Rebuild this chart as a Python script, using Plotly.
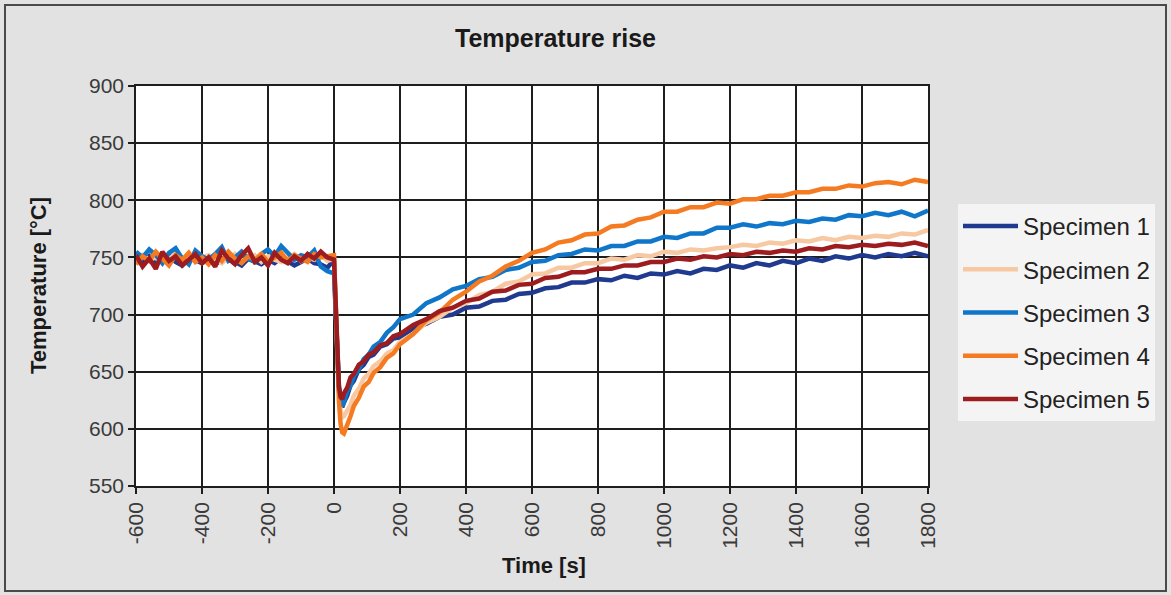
import plotly.graph_objects as go

# sample times [s]
time_pre = [-600, -580, -560, -540, -520, -500, -480, -460, -440, -420,
            -400, -380, -360, -340, -320, -300, -280, -260, -240, -220,
            -200, -180, -160, -140, -120, -100, -80, -60, -40, -20, 0]
time_post = [5, 10, 15, 20, 25, 30, 40, 50, 60, 75,
             90, 105, 120, 140, 160, 180, 200, 240, 280, 320,
             360, 400, 440, 480, 520, 560, 600, 640, 680, 720,
             760, 800, 840, 880, 920, 960, 1000, 1040, 1080, 1120,
             1160, 1200, 1240, 1280, 1320, 1360, 1400, 1440, 1480, 1520,
             1560, 1600, 1640, 1680, 1720, 1760, 1800]
times = time_pre + time_post

names = ["Specimen 1", "Specimen 2", "Specimen 3", "Specimen 4", "Specimen 5"]
colors = ["#203a8f", "#f6c9a2", "#0f76c9", "#f47b22", "#9c1c20"]

spec1 = [748, 745, 751, 744, 749, 752, 746, 743, 750, 747,
         745, 749, 744, 748, 751, 746, 743, 749, 746, 744,
         748, 745, 750, 747, 743, 746, 749, 745, 744, 741, 748,
         702, 661, 634, 622, 619, 623, 629, 638, 642, 652,
         656, 663, 665, 672, 674, 679, 680, 688, 692, 698,
         700, 706, 707, 712, 713, 718, 719, 723, 724, 728,
         728, 731, 730, 734, 732, 736, 735, 738, 736, 740,
         739, 743, 741, 745, 743, 747, 745, 749, 747, 751,
         749, 752, 750, 753, 751, 754, 751]
spec2 = [746, 752, 748, 750, 745, 749, 753, 747, 751, 746,
         750, 752, 748, 745, 750, 753, 747, 749, 752, 746,
         751, 748, 746, 750, 753, 747, 750, 748, 752, 747, 749,
         708, 663, 633, 616, 610, 611, 616, 621, 629, 635,
         644, 648, 655, 659, 666, 669, 676, 683, 693, 698,
         706, 710, 717, 720, 727, 729, 735, 736, 741, 741,
         745, 745, 749, 748, 752, 751, 755, 754, 757, 756,
         758, 759, 761, 760, 763, 762, 765, 764, 767, 765,
         768, 767, 769, 768, 771, 770, 774]
spec3 = [755, 750, 757, 752, 745, 754, 758, 749, 744, 756,
         751, 748, 753, 759, 747, 750, 755, 749, 746, 753,
         757, 751, 760, 754, 748, 752, 750, 756, 742, 738, 736,
         704, 664, 637, 624, 620, 623, 633, 638, 646, 652,
         661, 665, 672, 676, 684, 689, 696, 700, 710, 715,
         722, 725, 731, 733, 739, 741, 746, 747, 752, 753,
         757, 756, 760, 760, 764, 764, 768, 767, 771, 771,
         776, 776, 779, 777, 780, 779, 782, 781, 784, 783,
         787, 786, 789, 787, 790, 786, 791]
spec4 = [744, 751, 747, 755, 749, 743, 752, 748, 754, 746,
         750, 744, 752, 747, 755, 749, 745, 751, 748, 753,
         746, 750, 754, 747, 752, 749, 746, 753, 750, 751, 752,
         710, 659, 624, 604, 597, 596, 603, 611, 620, 627,
         637, 641, 649, 654, 662, 666, 674, 683, 695, 702,
         713, 720, 729, 734, 742, 747, 754, 757, 763, 765,
         770, 771, 777, 778, 783, 785, 790, 790, 794, 794,
         798, 797, 801, 801, 804, 804, 807, 807, 810, 810,
         813, 812, 815, 816, 814, 818, 816]
spec5 = [752, 742, 749, 740, 755, 747, 751, 743, 748, 753,
         745, 750, 742, 756, 749, 744, 752, 758, 746, 750,
         743, 754, 748, 745, 751, 747, 753, 749, 755, 750, 748,
         701, 659, 637, 628, 626, 631, 636, 645, 648, 656,
         659, 665, 667, 673, 675, 681, 683, 691, 696, 703,
         706, 712, 714, 720, 721, 726, 727, 732, 733, 737,
         737, 740, 740, 743, 743, 746, 746, 749, 748, 751,
         750, 753, 752, 755, 754, 756, 755, 758, 757, 760,
         759, 761, 760, 762, 761, 763, 760]
series = [spec1, spec2, spec3, spec4, spec5]

x_ticks = [-600, -400, -200, 0, 200, 400, 600, 800, 1000, 1200, 1400, 1600, 1800]
x_tick_labels = ["-600", "-400", "-200", "0", "200", "400", "600", "800",
                 "1000", "1200", "1400", "1600", "1800"]
y_ticks = [550, 600, 650, 700, 750, 800, 850, 900]

FONT = "Liberation Sans, Arial, sans-serif"

fig = go.Figure()
for nm, col, ys in zip(names, colors, series):
    fig.add_trace(go.Scatter(x=times, y=ys, mode="lines", name=nm,
                             legendgroup=nm,
                             line=dict(color=col, width=4.5)))

W, H = 1171, 595
L, R, T, B = 136, 928, 86, 486

def px(x):
    return (x - L) / (R - L)

def py(y):
    return (B - y) / (B - T)

axis_common = dict(showgrid=True, gridcolor="#1e1e1e", gridwidth=1.5,
                   showline=True, linecolor="#1e1e1e", linewidth=1.5, mirror=True,
                   ticks="outside", ticklen=6, tickcolor="#1e1e1e", tickwidth=1.5,
                   zeroline=False,
                   tickfont=dict(family=FONT, size=21, color="#3a3a3a"))

fig.update_layout(
    width=W, height=H,
    margin=dict(l=L, r=W - R, t=T, b=H - B),
    paper_bgcolor="#e2e2e2",
    plot_bgcolor="#ffffff",
    showlegend=True,
    legend=dict(x=px(958), y=py(204), xanchor="left", yanchor="top",
                bgcolor="#f4f4f4", borderwidth=0, itemwidth=55,
                traceorder="grouped", tracegroupgap=9,
                font=dict(family=FONT, size=24, color="#222222")),
    xaxis=dict(range=[-600, 1800], tickvals=x_ticks, ticktext=x_tick_labels,
               tickangle=-90, **axis_common),
    yaxis=dict(range=[550, 900], tickvals=y_ticks, **axis_common),
    annotations=[
        dict(text="<b>Temperature rise</b>", x=px(555), y=py(38), xref="paper", yref="paper",
             xanchor="center", yanchor="middle",
             showarrow=False, font=dict(family=FONT, size=25, color="#1a1a1a")),
        dict(text="<b>Time [s]</b>", x=px(544), y=py(565), xref="paper", yref="paper",
             xanchor="center", yanchor="middle",
             showarrow=False, font=dict(family=FONT, size=22, color="#1a1a1a")),
        dict(text="<b>Temperature [°C]</b>", x=px(38), y=py(286), xref="paper", yref="paper",
             xanchor="center", yanchor="middle",
             showarrow=False, textangle=-90, font=dict(family=FONT, size=22, color="#1a1a1a")),
    ],
    shapes=[
        dict(type="rect", xref="paper", yref="paper",
             x0=px(5), x1=px(1166), y0=py(591), y1=py(5),
             line=dict(color="#4a4a4a", width=2), fillcolor="rgba(0,0,0,0)", layer="below"),
    ],
)

fig.write_html("out.html", config={"displayModeBar": False},
               post_script="document.body.style.margin='0';")
